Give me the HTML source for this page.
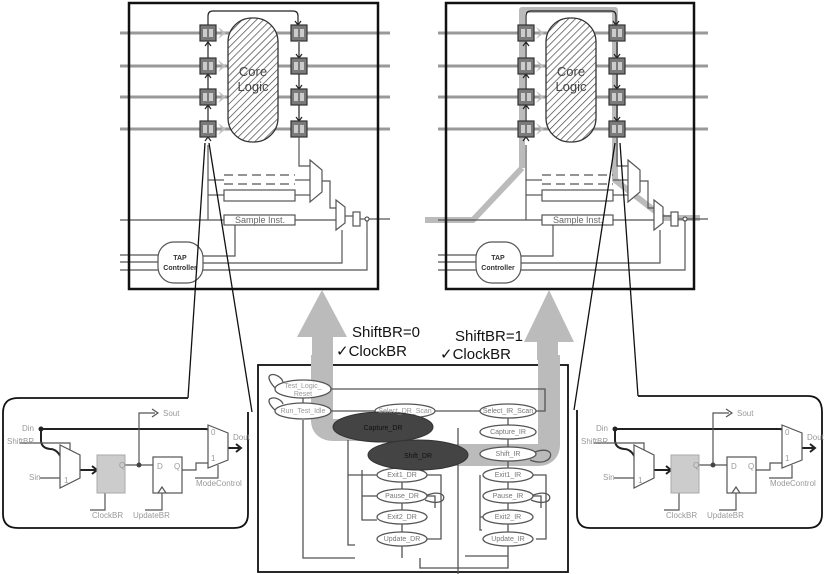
<!DOCTYPE html>
<html><head><meta charset="utf-8"><style>
html,body{margin:0;padding:0;background:#fff}
svg{display:block}
text{font-family:"Liberation Sans",sans-serif}
</style></head><body>
<svg width="825" height="574" viewBox="0 0 825 574" xmlns="http://www.w3.org/2000/svg">
<defs>
<pattern id="hatch" width="5" height="5" patternUnits="userSpaceOnUse" patternTransform="rotate(45)">
<rect width="5" height="5" fill="#fff"/><line x1="0" y1="0" x2="0" y2="5" stroke="#444" stroke-width="1.4"/>
</pattern>
<g id="cell">
<rect x="0" y="0" width="16" height="16" fill="#7a7a7a" stroke="#333" stroke-width="1.2"/>
<rect x="3" y="4" width="4" height="8" fill="#ccc"/><rect x="9" y="4" width="4" height="8" fill="#ccc"/>
</g>
<g id="chipbase">
<g stroke="#999" stroke-width="3">
<line x1="120" y1="33" x2="390" y2="33"/><line x1="120" y1="66" x2="390" y2="66"/>
<line x1="120" y1="97" x2="390" y2="97"/><line x1="120" y1="129" x2="390" y2="129"/>
</g>
<g fill="#bbb">
<polygon points="218,27 226,33 218,39 222,33"/><polygon points="218,60 226,66 218,72 222,66"/>
<polygon points="218,91 226,97 218,103 222,97"/><polygon points="218,123 226,129 218,135 222,129"/>
</g>
<path d="M208,26 V16 Q208,11 213,11 H293 Q298,11 298,16 V25" fill="none" stroke="#222" stroke-width="1.2"/>
<rect x="228" y="18" width="50" height="124" rx="24" fill="url(#hatch)" stroke="#333" stroke-width="1.3"/>
<text x="253" y="76" font-size="13" fill="#444" text-anchor="middle">Core</text>
<text x="253" y="91" font-size="13" fill="#444" text-anchor="middle">Logic</text>
<g stroke="#222" stroke-width="1.2" fill="none">
<line x1="208" y1="42" x2="208" y2="58"/><line x1="208" y1="74" x2="208" y2="89"/><line x1="208" y1="105" x2="208" y2="121"/>
<line x1="299" y1="42" x2="299" y2="58"/><line x1="299" y1="74" x2="299" y2="89"/><line x1="299" y1="105" x2="299" y2="121"/>
<path d="M205,46 L208,42 L211,46 M205,78 L208,74 L211,78 M205,109 L208,105 L211,109 M205,141 L208,137 L211,141"/>
<path d="M296,54 L299,58 L302,54 M296,85 L299,89 L302,85 M296,117 L299,121 L302,117 M295,21 L298,25 L301,21"/>
</g>
<use href="#cell" x="200" y="25"/><use href="#cell" x="200" y="58"/><use href="#cell" x="200" y="89"/><use href="#cell" x="200" y="121"/>
<use href="#cell" x="291" y="25"/><use href="#cell" x="291" y="58"/><use href="#cell" x="291" y="89"/><use href="#cell" x="291" y="121"/>
<g stroke="#555" stroke-width="1.2" fill="none">
<path d="M299,137 V166 H310"/>
<path d="M208,145 V220"/>
<path d="M208,180 H224"/><path d="M208,195 H224"/>
<path d="M295,180 H310"/><path d="M295,195 H310"/>
<polygon points="310,160 322,170 322,192 310,202" fill="#fff"/>
<path d="M322,181 H330 V208 H336"/>
<polygon points="336,200 345,207 345,223 336,230" fill="#fff"/>
<path d="M120,220 H224"/><path d="M295,220 H336"/>
<path d="M345,216 H353"/>
<rect x="353" y="212" width="7" height="14" fill="#fff"/>
<path d="M360,219 H365"/><circle cx="367" cy="219" r="2" fill="#fff"/><path d="M369,219 H390"/>
<rect x="224" y="190" width="71" height="11" fill="#fff"/>
<rect x="224" y="215" width="71" height="10" fill="#fff"/>
<path d="M224,175 H295 M224,184 H295" stroke-dasharray="9,5"/>
<line x1="120" y1="255" x2="158" y2="255"/><line x1="120" y1="262" x2="158" y2="262"/><line x1="120" y1="270" x2="158" y2="270"/>
<path d="M203,256 H235 V225"/><path d="M203,263 H342 V230"/><path d="M203,270 H367 V221"/>
</g>
<text x="260" y="223" font-size="9" fill="#666" text-anchor="middle">Sample Inst.</text>
<rect x="158" y="242" width="45" height="41" rx="16" fill="#fff" stroke="#555" stroke-width="1.2"/>
<text x="180" y="260" font-size="7" font-weight="bold" fill="#333" text-anchor="middle">TAP</text>
<text x="180" y="270" font-size="7" font-weight="bold" fill="#333" text-anchor="middle">Controller</text>
</g>
<g id="panel">
<g stroke="#222" stroke-width="2" fill="none">
<path d="M41,429 H205 Q213,429 218,440 Q222,448 230,448"/>
<path d="M41,429 V440 Q41,448 50,449 Q58,449 62,460 Q68,470 80,470 H97"/>
<path d="M228,448 H240"/><path d="M236,444 L241,448 L236,452"/>
<path d="M92,466 L97,470 L92,474"/>
</g>
<g stroke="#555" stroke-width="1.2" fill="none">
<path d="M20,443 H70 V451"/>
<path d="M40,478 H60"/>
<polygon points="60,445 80,455 80,478 60,488" fill="#fff"/>
<path d="M125,465 H153"/>
<path d="M139,465 V413 H155"/><path d="M152,409 L158,413 L152,417"/>
<path d="M182,470 H196 V463 H208"/>
<polygon points="208,425 228,433 228,460 208,468" fill="#fff"/>
<path d="M218,465 V478 H195"/>
<path d="M105,493 V510 H90"/>
<path d="M162,493 V510 H145"/>
<rect x="153" y="457" width="29" height="36" fill="#fff"/>
<path d="M158,493 L162,487 L166,493"/>
</g>
<circle cx="41" cy="429" r="2.5" fill="#222"/><circle cx="139" cy="465" r="2.5" fill="#444"/>
<rect x="97" y="455" width="28" height="38" fill="#ccc" stroke="#aaa"/>
<g font-size="8" fill="#999">
<text x="22" y="431">Din</text><text x="7" y="444">ShiftBR</text><text x="29" y="480">Sin</text>
<text x="163" y="416">Sout</text><text x="233" y="440">Dout</text>
<text x="196" y="486">ModeControl</text><text x="92" y="518">ClockBR</text><text x="133" y="518">UpdateBR</text>
<text x="157" y="469">D</text><text x="174" y="469">Q</text><text x="119" y="468">Q</text>
<text x="211" y="435">0</text><text x="211" y="461">1</text><text x="64" y="483">1</text>
</g>
</g>
</defs>

<use href="#chipbase"/>
<rect x="129" y="3" width="249" height="286" fill="none" stroke="#111" stroke-width="2.5"/>

<g transform="translate(318,0)">
<g stroke="#bbb" stroke-width="6" fill="none" stroke-linejoin="round">
<path d="M204,168 V10 H297 V180 L346,218 H382"/>
<path d="M204,168 L155,220 H107"/>
</g>
<use href="#chipbase"/>
</g>
<rect x="446" y="3" width="248" height="286" fill="none" stroke="#111" stroke-width="2.5"/>

<g stroke="#111" stroke-width="1.3">
<line x1="205" y1="143" x2="188" y2="398"/><line x1="209" y1="143" x2="252" y2="412"/>
<line x1="615" y1="143" x2="574" y2="410"/><line x1="620" y1="143" x2="638" y2="396"/>
</g>

<path d="M188,398 H18 Q3,398 3,413 V514 Q3,528 18,528 H234 Q248,528 248,514 V412" fill="none" stroke="#111" stroke-width="1.8"/>
<use href="#panel"/>
<path d="M638,396 H808 Q822,396 822,412 V514 Q822,528 808,528 H590 Q577,528 577,514 V410" fill="none" stroke="#111" stroke-width="1.8"/>
<use href="#panel" transform="translate(574,0)"/>

<g fill="#bbb">
<polygon points="322,290 347,337 333,337 333,360 312,360 312,337 297,337"/>
<polygon points="549,290 574,342 558,342 558,360 537,360 537,342 524,342"/>
</g>
<text x="352" y="337" font-size="15" fill="#111">ShiftBR=0</text>
<text x="336" y="356" font-size="15" fill="#111">✓ClockBR</text>
<text x="455" y="341" font-size="15" fill="#111">ShiftBR=1</text>
<text x="440" y="359" font-size="15" fill="#111">✓ClockBR</text>

<rect x="258" y="365" width="310" height="207" fill="#fff" stroke="#111" stroke-width="1.8"/>
<g fill="none" stroke="#bbb" stroke-width="22" stroke-linejoin="round">
<path d="M322,355 V420 Q322,430 334,430 H360"/>
<path d="M430,455 H538 Q549,455 549,444 V355"/>
</g>
<g stroke="#555" stroke-width="1.3" fill="none">
<path d="M331,411 H375"/><path d="M435,411 H480"/>
<path d="M536,411 H545 V389 H331"/>
<path d="M303,398 V403"/>
<path d="M303,420 V558 H355"/>
<path d="M508,418 V425 M508,439 V447 M508,461 V468 M508,482 V489 M508,503 V510 M508,524 V532"/>
<path d="M402,482 V489 M402,503 V510 M402,524 V532"/>
<path d="M348,440 V545 H355 M348,475 H377"/>
<path d="M362,470 V520 H377"/><path d="M362,496 H377"/>
<path d="M427,475 H441 V539 H427"/><path d="M427,496 H435 V508"/>
<path d="M480,475 V530 H482 M480,517 H483"/>
<path d="M533,475 H546 V539 H536"/><path d="M533,496 H541 V508"/>
<path d="M458,428 V575"/>
<path d="M402,546 V558 M508,546 V556 H465 M420,558 V568 H508 V556"/>
<path d="M276,389 C258,370 280,372 283,382 M276,411 C258,395 280,395 283,404"/>
<path d="M530,454 C560,440 555,470 530,460"/>
<path d="M425,496 C450,485 450,510 425,500"/>
<path d="M531,496 C556,485 556,510 531,500"/>
</g>
<g fill="#fff" stroke="#555" stroke-width="1.3">
<ellipse cx="303" cy="389" rx="28" ry="9"/><ellipse cx="303" cy="411" rx="28" ry="8"/>
<ellipse cx="405" cy="411" rx="30" ry="7"/><ellipse cx="508" cy="411" rx="28" ry="7"/>
<ellipse cx="508" cy="432" rx="28" ry="7"/><ellipse cx="508" cy="454" rx="28" ry="7"/>
<ellipse cx="402" cy="475" rx="25" ry="7"/><ellipse cx="508" cy="475" rx="25" ry="7"/>
<ellipse cx="402" cy="496" rx="25" ry="7"/><ellipse cx="508" cy="496" rx="25" ry="7"/>
<ellipse cx="402" cy="517" rx="25" ry="7"/><ellipse cx="508" cy="517" rx="25" ry="7"/>
<ellipse cx="402" cy="539" rx="25" ry="7"/><ellipse cx="508" cy="539" rx="25" ry="7"/>
</g>
<ellipse cx="383" cy="427" rx="50" ry="15" fill="#444" stroke="#333"/>
<ellipse cx="418" cy="455" rx="50" ry="15" fill="#444" stroke="#333"/>
<g font-size="7" fill="#999" text-anchor="middle">
<text x="303" y="388">Test_Logic_</text><text x="303" y="396">Reset</text>
<text x="303" y="413">Run_Test_Idle</text><text x="405" y="413">Select_DR_Scan</text>
<text x="508" y="413" fill="#777">Select_IR_Scan</text>
<text x="508" y="434" fill="#777">Capture_IR</text><text x="508" y="456" fill="#777">Shift_IR</text>
<text x="402" y="477" fill="#777">Exit1_DR</text><text x="508" y="477" fill="#777">Exit1_IR</text>
<text x="402" y="498" fill="#777">Pause_DR</text><text x="508" y="498" fill="#777">Pause_IR</text>
<text x="402" y="519" fill="#777">Exit2_DR</text><text x="508" y="519" fill="#777">Exit2_IR</text>
<text x="402" y="541" fill="#777">Update_DR</text><text x="508" y="541" fill="#777">Update_IR</text>
<text x="383" y="430" fill="#111">Capture_DR</text><text x="418" y="458" fill="#111">Shift_DR</text>
</g>
</svg>
</body></html>
